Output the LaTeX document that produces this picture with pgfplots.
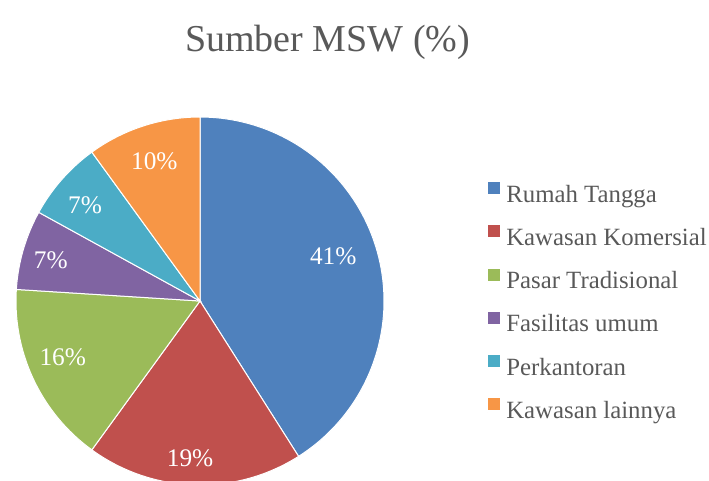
\documentclass[border=0pt]{standalone}
\usepackage{fontspec}
\setmainfont{Liberation Serif}
\usepackage{pgfplots}
\pgfplotsset{compat=1.18}
\definecolor{cA}{HTML}{4F81BD}
\definecolor{cB}{HTML}{C0504D}
\definecolor{cC}{HTML}{9BBB59}
\definecolor{cD}{HTML}{8064A2}
\definecolor{cE}{HTML}{4BACC6}
\definecolor{cF}{HTML}{F79646}
\definecolor{txt}{HTML}{595959}
% shares (%)
\def\pA{41}\def\pB{19}\def\pC{16}\def\pD{7}\def\pE{7}\def\pF{10}
% slice boundaries, clockwise from 12 o'clock
\pgfmathsetmacro\aO{90}
\pgfmathsetmacro\aA{\aO-3.6*\pA}
\pgfmathsetmacro\aB{\aA-3.6*\pB}
\pgfmathsetmacro\aC{\aB-3.6*\pC}
\pgfmathsetmacro\aD{\aC-3.6*\pD}
\pgfmathsetmacro\aE{\aD-3.6*\pE}
\pgfmathsetmacro\aF{\aE-3.6*\pF}
\begin{document}
\begin{tikzpicture}[x=0.75pt,y=0.75pt]
\path[use as bounding box] (0,0) rectangle (709,480);
\node[anchor=base,text=txt,font=\fontsize{28.5}{34}\selectfont] at (327.5,429) {Sumber MSW (\%)};
\begin{axis}[at={(150pt,134.25pt)},anchor=center,scale only axis,
  width=276pt,height=276pt,xmin=-1,xmax=1,ymin=-1,ymax=1,
  hide axis,clip=false,samples=90,
  every axis plot/.append style={draw=white,line width=0.75pt},
  legend image code/.code={\fill[#1,draw=none] (0pt,1.6pt) rectangle (9pt,10.6pt);
    \path (0pt,0pt) -- (13.5pt,0pt);},
  legend cell align=left,
  legend style={at={(1.28,0.8234)},anchor=north west,draw=none,fill=none,
    inner sep=0pt,row sep=13.3pt,text=txt,font=\fontsize{18.6}{22}\selectfont,
    nodes={inner sep=0pt,text height=13pt,text depth=4pt}}]
\addplot[fill=cA,domain=\aA:\aO] ({cos(x)},{sin(x)}) -- (axis cs:0,0) -- cycle;
\addlegendentry{Rumah Tangga}
\addplot[fill=cB,domain=\aB:\aA] ({cos(x)},{sin(x)}) -- (axis cs:0,0) -- cycle;
\addlegendentry{Kawasan Komersial}
\addplot[fill=cC,domain=\aC:\aB] ({cos(x)},{sin(x)}) -- (axis cs:0,0) -- cycle;
\addlegendentry{Pasar Tradisional}
\addplot[fill=cD,domain=\aD:\aC] ({cos(x)},{sin(x)}) -- (axis cs:0,0) -- cycle;
\addlegendentry{Fasilitas umum}
\addplot[fill=cE,domain=\aE:\aD] ({cos(x)},{sin(x)}) -- (axis cs:0,0) -- cycle;
\addlegendentry{Perkantoran}
\addplot[fill=cF,domain=\aF:\aE] ({cos(x)},{sin(x)}) -- (axis cs:0,0) -- cycle;
\addlegendentry{Kawasan lainnya}
\begin{scope}[every node/.style={text=white,inner sep=0pt,font=\fontsize{19}{22}\selectfont}]
\node at (axis cs:0.724,0.241) {41\%};
\node at (axis cs:-0.054,-0.855) {19\%};
\node at (axis cs:-0.746,-0.303) {16\%};
\node at (axis cs:-0.811,0.219) {7\%};
\node at (axis cs:-0.625,0.522) {7\%};
\node at (axis cs:-0.248,0.761) {10\%};
\end{scope}
\end{axis}
\end{tikzpicture}
\end{document}
